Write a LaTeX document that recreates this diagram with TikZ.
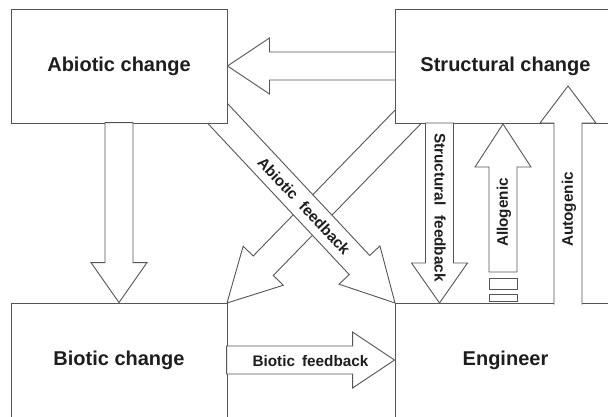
\documentclass[tikz,border=0pt]{standalone}
\usepackage{fontspec}
\setmainfont{Liberation Sans}
\definecolor{linegray}{HTML}{555555}
\definecolor{txt}{HTML}{1E1E1E}
\newcommand\fatarrow[3]{%
  \begin{scope}[#1]
    \draw[arr] (0,0) -- (-#3,28) -- (-#3,14) -- (-#2,14) -- (-#2,-14) -- (-#3,-14) -- (-#3,-28) -- cycle;
  \end{scope}}
\begin{document}
\begin{tikzpicture}[x=1pt,y=-1pt,
  arr/.style={draw=linegray, fill=white, line width=0.9pt, line join=miter},
  box/.style={draw=linegray, fill=white, line width=0.9pt, text=txt, inner sep=0pt,
    font=\bfseries\fontsize{20}{24}\selectfont},
  lbl/.style={text=txt, inner sep=0pt, font=\bfseries\fontsize{15.3}{18}\selectfont}]
\useasboundingbox (0,0) rectangle (608,416);
\clip (0,0) rectangle (608,416);
% diagonal arrows (behind the boxes)
\coordinate (tipA) at (395,303);
\coordinate (tipS) at (227,303);
\fatarrow{shift={(tipS)},rotate=-134.2}{300}{52}
\fatarrow{shift={(tipA)},rotate=-46.9}{300}{52}
% boxes
\node[box, minimum width=216pt, minimum height=114pt] (abiotic) at (119,66) {Abiotic change};
\node[box, minimum width=221pt, minimum height=114pt] (structural) at (505.5,66) {Structural change};
\node[box, minimum width=216pt, minimum height=114pt] (biotic) at (119,360) {Biotic change};
\node[box, minimum width=221pt, minimum height=114pt] (engineer) at (505.5,360) {Engineer};
% straight arrows
\fatarrow{shift={(abiotic.east)},rotate=180}{168}{42}
\fatarrow{shift={(biotic.north)},rotate=-90}{180}{40}
\fatarrow{shift={(engineer.west)},rotate=0}{168}{42}
\coordinate (tipF) at (439.5,303);
\fatarrow{shift={(tipF)},rotate=-90}{180}{40}
\coordinate (tipG) at (503,124);
\fatarrow{shift={(tipG)},rotate=90}{148}{43}
\draw[arr] (489,278) rectangle (517,289);
\draw[arr] (489,294) rectangle (517,301);
% autogenic arrow (open at the bottom)
\draw[arr] (554,304.5) -- (554,123) -- (540,123) -- (568,86) -- (596,123) -- (582,123) -- (582,304.5);
% labels
\node[lbl, rotate=-46.9] (labA) at (304,206) {Abiotic\hspace{9pt}feedback};
\node[lbl] (labB) at (310.5,361) {Biotic\hspace{7pt}feedback};
\node[lbl, rotate=-90] (labS) at (440,207.5) {Structural\hspace{10pt}feedback};
\node[lbl, rotate=90] (labG) at (504,212.5) {Allogenic};
\node[lbl, rotate=90] (labU) at (569,209.5) {Autogenic};
\end{tikzpicture}
\end{document}
